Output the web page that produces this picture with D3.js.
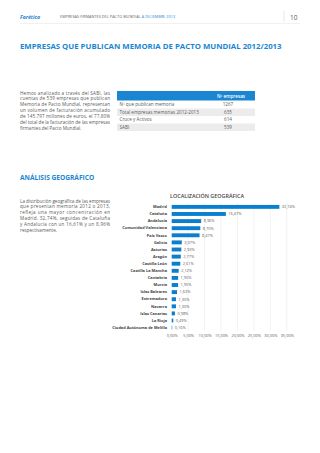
<!DOCTYPE html>
<html>
<head>
<meta charset="utf-8">
<script src="https://cdn.jsdelivr.net/npm/d3@7"></script>
<style>
  body { margin: 0; background: #fff; }
  svg { display: block; font-family: "Open Sans", sans-serif; }
</style>
</head>
<body>
<svg id="page"></svg>
<script>
// chart data
const regions = ['Madrid', 'Cataluña', 'Andalucía', 'Comunidad Valenciana', 'País Vasco', 'Galicia',
  'Asturias', 'Aragón', 'Castilla León', 'Castilla La Mancha', 'Cantabria', 'Murcia',
  'Islas Baleares', 'Extremadura', 'Navarra', 'Islas Canarias', 'La Rioja', 'Ciudad Autónoma de Melilla']
const shares = [32.74, 16.47, 8.96, 8.70, 8.47, 3.07, 2.93, 2.77, 2.61, 2.12, 1.95, 1.95, 1.63, 1.30, 1.30, 0.98, 0.49, 0.16]
const axisTicks = [0, 5, 10, 15, 20, 25, 30, 35]

// table data
const tableRows = ['Nº que publican memoria', 'Total empresas memorias 2012-2013', 'Cruce y Activos', 'SABI']
const tableValues = [1267, 635, 614, 539]

const para1 = ['Hemos analizado a través del SABI, las', 'cuentas de 539 empresas que publican',
  'Memoria de Pacto Mundial, representan', 'un volumen de facturación acumulado',
  'de 145.797 millones de euros, el 77,80%', 'del total de la facturación de las empresas',
  'firmantes del Pacto Mundial.']
const para2 = ['La distribución geográfica de las empresas', 'que presentan memoria 2012 o 2013,',
  'refleja una mayor concentración en', 'Madrid, 32,74%, seguidas de Cataluña',
  'y Andalucía con un 16,61% y un 8,96%', 'respectivamente.']

const W = 320, H = 453
const blue = '#1a86d2'
const grey = '#5a5a5a'
const es = d3.formatLocale({ decimal: ',', thousands: '.', grouping: [3], currency: ['', '€'] })
const pct = es.format('.2f')

const svg = d3.select('#page').attr('width', W).attr('height', H)

// page header
svg.append('text').attr('x', 20).attr('y', 18.5)
  .attr('font-size', 5.2).attr('font-weight', 700).attr('font-style', 'italic').attr('fill', blue)
  .text('Forética')
const hdr = svg.append('text').attr('x', 60).attr('y', 18)
  .attr('font-size', 3.7).attr('fill', grey).attr('letter-spacing', 0.1)
hdr.append('tspan').text('EMPRESAS FIRMANTES DEL PACTO MUNDIAL ')
hdr.append('tspan').attr('fill', blue).text('A DICIEMBRE 2013')
svg.append('line').attr('x1', 284).attr('x2', 284).attr('y1', 11).attr('y2', 22)
  .attr('stroke', '#ccc').attr('stroke-width', 0.5)
svg.append('text').attr('x', 290).attr('y', 19.5)
  .attr('font-size', 6.5).attr('fill', grey).text('10')
svg.append('line').attr('x1', 20).attr('x2', 300).attr('y1', 23.5).attr('y2', 23.5)
  .attr('stroke', '#e2e2e2').attr('stroke-width', 0.5)

// section titles
svg.append('text').attr('x', 20).attr('y', 49)
  .attr('font-size', 7.8).attr('font-weight', 700).attr('fill', blue)
  .text('EMPRESAS QUE PUBLICAN MEMORIA DE PACTO MUNDIAL 2012/2013')
svg.append('text').attr('x', 20).attr('y', 179.5)
  .attr('font-size', 6.6).attr('font-weight', 700).attr('fill', blue)
  .text('ANÁLISIS GEOGRÁFICO')

function paragraph(lines, y0) {
  svg.append('g').selectAll('text').data(lines).join('text')
    .attr('x', 20).attr('y', (d, i) => y0 + i * 5.85)
    .attr('font-size', 4.6).attr('fill', grey)
    .attr('textLength', (d, i) => i < lines.length - 1 ? 90 : null)
    .attr('lengthAdjust', 'spacing')
    .text(d => d)
}
paragraph(para1, 94.5)
paragraph(para2, 202.5)

// table
const tx0 = 117, tx1 = 255, rowH = 7.5
const tbl = svg.append('g')
tbl.append('rect').attr('x', tx0).attr('y', 91).attr('width', tx1 - tx0).attr('height', 9.5).attr('fill', blue)
tbl.append('text').attr('x', 231).attr('y', 97.5).attr('text-anchor', 'middle')
  .attr('font-size', 4.6).attr('font-weight', 600).attr('fill', '#fff').text('Nº empresas')
const rows = tbl.selectAll('g.row').data(tableRows).join('g')
  .attr('transform', (d, i) => `translate(0, ${101 + i * rowH})`)
rows.append('rect').attr('x', tx0).attr('width', tx1 - tx0).attr('height', rowH)
  .attr('fill', (d, i) => i % 2 ? '#ececec' : '#fff')
rows.append('text').attr('x', tx0 + 2.5).attr('y', 5.3)
  .attr('font-size', 4.6).attr('fill', grey).text(d => d)
rows.append('text').attr('x', 228).attr('y', 5.3).attr('text-anchor', 'middle')
  .attr('font-size', 4.6).attr('fill', grey).text((d, i) => tableValues[i])

// bar chart
svg.append('text').attr('x', 207).attr('y', 198)
  .attr('text-anchor', 'middle').attr('font-size', 5.4).attr('font-weight', 600).attr('fill', '#444')
  .text('LOCALIZACIÓN GEOGRÁFICA')

const xScale = d3.scaleLinear().domain([0, 35]).range([171.7, 286.8])
const yScale = d3.scaleBand().domain(regions).range([203.5, 331]).paddingInner(0.45).paddingOuter(0.2)

svg.append('g').selectAll('line').data(axisTicks.slice(1)).join('line')
  .attr('x1', d => xScale(d)).attr('x2', d => xScale(d))
  .attr('y1', 203).attr('y2', 331)
  .attr('stroke', '#e6e6e6').attr('stroke-width', 0.5)

const xAxis = d3.axisBottom(xScale).tickValues(axisTicks).tickFormat(d => pct(d) + '%').tickSize(0).tickPadding(0)
svg.append('g').attr('transform', 'translate(0, 334)').call(xAxis)
  .call(g => g.select('.domain').remove())
  .selectAll('text').attr('font-size', 3.9).attr('fill', grey).attr('font-family', '"Open Sans", sans-serif')

const yAxis = d3.axisLeft(yScale).tickSize(0).tickPadding(0)
svg.append('g').attr('transform', 'translate(167, 0)').call(yAxis)
  .call(g => g.select('.domain').remove())
  .selectAll('text').attr('font-size', 3.9).attr('font-weight', 700).attr('fill', '#444')
  .attr('font-family', '"Open Sans", sans-serif')

const data = regions.map((r, i) => ({ region: r, value: shares[i] }))
svg.append('g').selectAll('rect').data(data).join('rect')
  .attr('x', xScale(0)).attr('y', d => yScale(d.region))
  .attr('width', d => xScale(d.value) - xScale(0)).attr('height', yScale.bandwidth())
  .attr('fill', '#0a7fd0')
svg.append('g').selectAll('text').data(data).join('text')
  .attr('x', d => xScale(d.value) + 2.5).attr('y', d => yScale(d.region) + yScale.bandwidth() / 2)
  .attr('dy', '0.35em').attr('font-size', 3.9).attr('fill', grey)
  .text(d => pct(d.value) + '%')
</script>
</body>
</html>
